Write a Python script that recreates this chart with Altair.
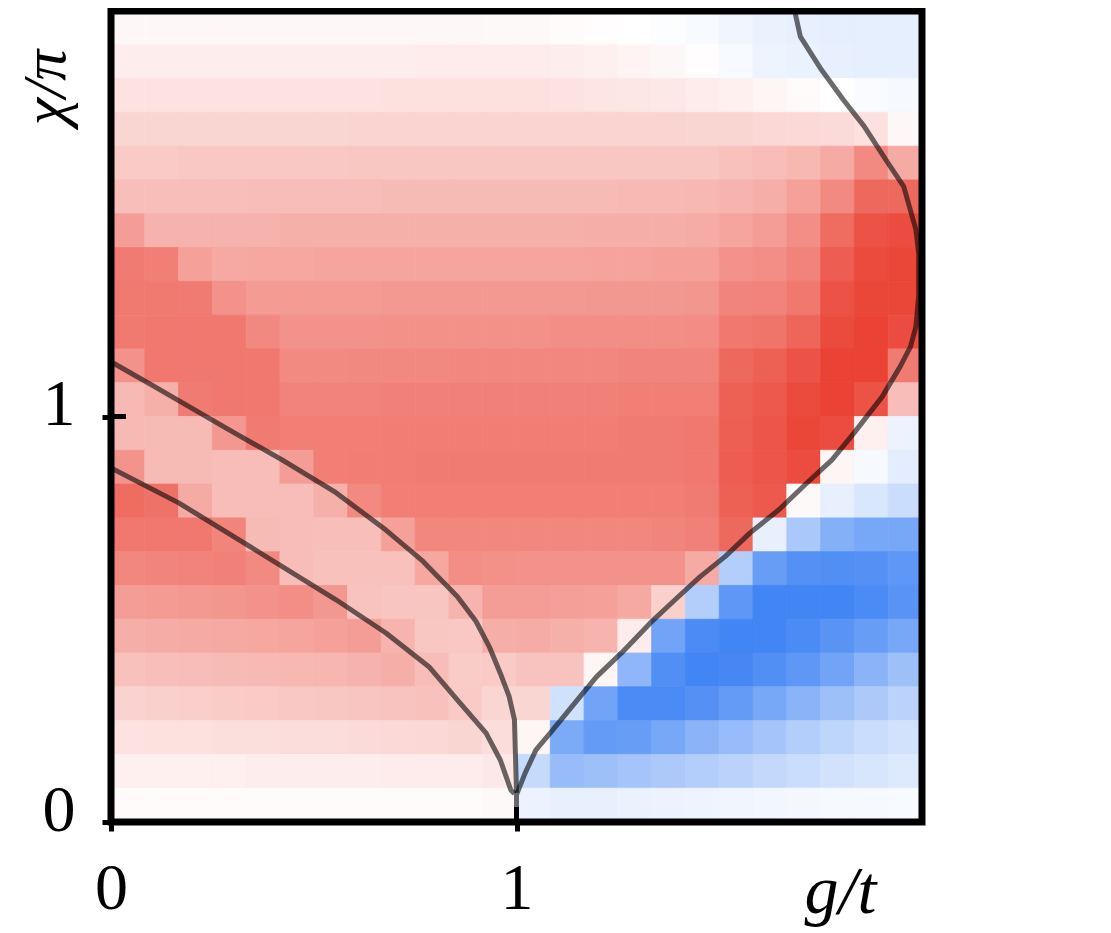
import altair as alt
import pandas as pd

# grid: 24 x 24 cells over g/t in [0,2] and chi/pi in [0,2]; rows listed from top (chi/pi = 2) to bottom
n_cells = 24
grid_step = 2 / n_cells

# heatmap value in percent: -100 = deep blue, 0 = white, 100 = deep red
row_00 = [4, 4, 4, 4, 4, 4, 4, 4, 4, 4, 4, 3, 3, 2, 1, 0, -2, -4, -8, -11, -12, -13, -13, -13]
row_01 = [9, 9, 9, 9, 9, 9, 9, 9, 9, 10, 10, 10, 10, 9, 8, 6, 4, 1, -4, -9, -11, -12, -13, -13]
row_02 = [15, 15, 15, 15, 15, 15, 15, 15, 16, 16, 16, 16, 16, 15, 14, 13, 12, 10, 8, 5, 2, 0, -3, -5]
row_03 = [22, 22, 22, 22, 22, 22, 22, 23, 23, 23, 23, 23, 23, 23, 23, 23, 23, 22, 22, 21, 20, 19, 16, 4]
row_04 = [28, 28, 29, 29, 29, 29, 29, 30, 30, 30, 30, 30, 30, 30, 30, 30, 30, 30, 33, 35, 38, 45, 62, 45]
row_05 = [34, 34, 34, 34, 35, 35, 35, 35, 36, 36, 36, 36, 36, 36, 36, 37, 37, 38, 40, 43, 50, 62, 80, 80]
row_06 = [52, 41, 41, 41, 41, 42, 42, 42, 42, 42, 42, 42, 42, 42, 43, 43, 43, 44, 48, 52, 60, 78, 92, 95]
row_07 = [70, 68, 50, 46, 47, 47, 48, 48, 48, 48, 48, 48, 48, 48, 49, 49, 50, 50, 58, 60, 66, 86, 96, 98]
row_08 = [71, 71, 70, 58, 53, 53, 53, 53, 54, 54, 54, 54, 54, 54, 55, 55, 55, 56, 65, 66, 72, 92, 98, 98]
row_09 = [71, 72, 72, 72, 63, 58, 58, 58, 59, 59, 59, 59, 59, 60, 60, 60, 60, 61, 72, 74, 82, 96, 100, 95]
row_10 = [58, 72, 72, 72, 72, 62, 62, 63, 63, 63, 64, 64, 64, 64, 64, 65, 65, 65, 80, 84, 92, 100, 100, 70]
row_11 = [37, 42, 70, 72, 72, 66, 66, 66, 67, 67, 67, 67, 67, 67, 67, 68, 68, 68, 84, 88, 96, 100, 92, 35]
row_12 = [37, 36, 36, 55, 70, 68, 68, 68, 69, 69, 69, 69, 69, 69, 69, 70, 70, 72, 85, 90, 98, 95, 8, -10]
row_13 = [57, 36, 36, 35, 35, 52, 68, 69, 69, 70, 70, 70, 70, 70, 70, 70, 70, 72, 86, 90, 95, 5, -5, -15]
row_14 = [78, 75, 45, 35, 35, 35, 42, 62, 68, 68, 68, 68, 68, 68, 68, 68, 68, 70, 84, 88, 3, -12, -20, -28]
row_15 = [72, 72, 72, 65, 36, 35, 34, 34, 50, 64, 64, 64, 64, 64, 64, 64, 65, 67, 80, -12, -45, -65, -72, -72]
row_16 = [64, 65, 66, 67, 62, 35, 33, 33, 33, 47, 60, 59, 58, 58, 58, 58, 58, 45, -40, -80, -90, -92, -90, -85]
row_17 = [52, 53, 54, 56, 58, 60, 55, 32, 31, 31, 40, 52, 52, 51, 50, 46, 25, -40, -85, -100, -100, -100, -95, -88]
row_18 = [43, 44, 45, 46, 47, 48, 50, 52, 40, 30, 29, 43, 44, 42, 40, 10, -75, -95, -100, -100, -95, -88, -80, -72]
row_19 = [33, 34, 35, 36, 37, 38, 39, 41, 43, 35, 27, 28, 32, 32, 5, -60, -92, -100, -98, -92, -85, -75, -62, -52]
row_20 = [24, 25, 26, 27, 28, 29, 30, 31, 32, 33, 28, 22, 22, -25, -75, -95, -95, -90, -82, -72, -62, -52, -44, -36]
row_21 = [15, 16, 16, 17, 17, 18, 18, 19, 20, 21, 22, 18, 5, -70, -82, -80, -72, -62, -55, -48, -40, -34, -28, -24]
row_22 = [8, 8, 8, 8, 9, 9, 9, 9, 10, 10, 10, 12, -30, -55, -52, -48, -44, -40, -36, -32, -28, -24, -21, -18]
row_23 = [2, 2, 2, 2, 2, 2, 2, 2, 2, 2, 2, 3, -10, -12, -12, -11, -10, -9, -8, -7, -6, -5, -5, -4]

value_rows = [row_00, row_01, row_02, row_03, row_04, row_05, row_06, row_07,
              row_08, row_09, row_10, row_11, row_12, row_13, row_14, row_15,
              row_16, row_17, row_18, row_19, row_20, row_21, row_22, row_23]

# contour lines (g/t, chi/pi)
c1_x = [0.0, 0.1, 0.2, 0.3, 0.422, 0.555, 0.678, 0.766, 0.854, 0.90, 0.933, 0.960, 0.982, 0.995, 1.0]
c1_y = [1.135, 1.078, 1.020, 0.962, 0.893, 0.812, 0.720, 0.646, 0.556, 0.495, 0.432, 0.367, 0.309, 0.252, 0.072]

c2_x = [0.0, 0.167, 0.343, 0.555, 0.678, 0.784, 0.854, 0.925, 0.960, 0.986, 0.995]
c2_y = [0.873, 0.787, 0.679, 0.548, 0.466, 0.383, 0.301, 0.219, 0.153, 0.079, 0.070]

c3_x = [1.0, 1.0, 1.021, 1.048, 1.083, 1.136, 1.197, 1.259, 1.330, 1.391, 1.453, 1.515, 1.576,
        1.647, 1.716, 1.778, 1.832, 1.902, 1.946, 1.972, 1.985, 1.992, 1.992, 1.985, 1.955,
        1.911, 1.857, 1.806, 1.752, 1.700, 1.686]
c3_y = [0.0, 0.067, 0.120, 0.178, 0.219, 0.284, 0.358, 0.417, 0.491, 0.548, 0.605, 0.655, 0.713,
        0.770, 0.836, 0.893, 0.959, 1.049, 1.123, 1.173, 1.222, 1.300, 1.400, 1.461, 1.567,
        1.633, 1.716, 1.781, 1.855, 1.937, 2.0]

tick_values = [0, 1]

# ---- tables ----
cells = []
for i, row in enumerate(value_rows):
    for j, v in enumerate(row):
        cells.append({
            "x0": j * grid_step, "x1": (j + 1) * grid_step,
            "y0": 2 - (i + 1) * grid_step, "y1": 2 - i * grid_step,
            "v": v,
        })
cells_df = pd.DataFrame(cells)

lines = []
for name, xs_, ys_ in [("c1", c1_x, c1_y), ("c2", c2_x, c2_y), ("c3", c3_x, c3_y)]:
    for k, (a, b) in enumerate(zip(xs_, ys_)):
        lines.append({"curve": name, "k": k, "gx": a, "gy": b})
lines_df = pd.DataFrame(lines)
ticks_df = pd.DataFrame({"t": tick_values})

W = 811
H = 811
FONT = "Liberation Serif"

xs = alt.Scale(domain=[0, 2], nice=False, zero=False)
ys = alt.Scale(domain=[0, 2], nice=False, zero=False)
cscale = alt.Scale(domain=[-100, 0, 100], range=["#4285F4", "#FFFFFF", "#EA4335"], interpolate="rgb")

ax_x = alt.Axis(
    values=tick_values, format="d", title="g/t",
    titleFont=FONT, titleFontStyle="italic", titleFontWeight="normal", titleFontSize=68,
    titleColor="black", titleX=729, titleY=90, titleAlign="center", titleBaseline="alphabetic",
    labelPadding=25, labelFont=FONT, labelFontSize=66, labelColor="black", labelFlush=False,
    ticks=True, tickSize=9, tickWidth=5, tickColor="black", domain=False, grid=False)
ax_y = alt.Axis(
    values=tick_values, format="d", title="χ/π",
    titleFont=FONT, titleFontStyle="italic", titleFontWeight="normal", titleFontSize=62,
    titleColor="black", titleAngle=270, titleX=-47, titleY=76, titleAlign="center",
    titleBaseline="alphabetic", labelPadding=27, labelBaseline="middle", labelOffset=-12,
    labelFont=FONT, labelFontSize=66, labelColor="black", labelFlush=False,
    ticks=True, tickSize=9, tickWidth=5, tickColor="black", domain=False, grid=False)

heat = alt.Chart(cells_df).mark_rect(strokeWidth=0.8).encode(
    x=alt.X("x0:Q", scale=xs, axis=ax_x, title="g/t"),
    x2="x1:Q",
    y=alt.Y("y0:Q", scale=ys, axis=ax_y, title="χ/π"),
    y2="y1:Q",
    color=alt.Color("v:Q", scale=cscale, legend=None),
    stroke=alt.Stroke("v:Q", scale=cscale, legend=None),
)

contours = alt.Chart(lines_df).mark_line(
    color="black", opacity=0.58, strokeWidth=5, clip=True, strokeJoin="round"
).encode(
    x=alt.X("gx:Q", scale=xs, axis=ax_x, title="g/t"),
    y=alt.Y("gy:Q", scale=ys, axis=ax_y, title="χ/π"),
    detail="curve:N",
    order="k:Q",
)

yticks_in = alt.Chart(ticks_df).mark_rule(color="black", strokeWidth=5).encode(
    y=alt.Y("t:Q", scale=ys, axis=ax_y, title="χ/π"),
    x=alt.value(0), x2=alt.value(15),
)
xticks_in = alt.Chart(ticks_df).mark_rule(color="black", strokeWidth=5).encode(
    x=alt.X("t:Q", scale=xs, axis=ax_x, title="g/t"),
    y=alt.value(H - 15), y2=alt.value(H),
)

frame = alt.Chart(ticks_df).mark_rect(fillOpacity=0, stroke="black", strokeWidth=7).encode(
    x=alt.X("t:Q", scale=xs, axis=ax_x, title="g/t", aggregate="min"),
    x2=alt.datum(2),
    y=alt.Y("t:Q", scale=ys, axis=ax_y, title="χ/π", aggregate="min"),
    y2=alt.datum(2),
)

chart = alt.layer(heat, contours, yticks_in, xticks_in, frame).properties(
    width=W, height=H,
    autosize=alt.AutoSizeParams(type="none"),
    padding={"left": 103, "top": 3, "right": 180, "bottom": 105},
).configure_view(stroke=None).configure(background="white")

chart.save("out.html", embed_options={"renderer": "svg", "actions": False})
